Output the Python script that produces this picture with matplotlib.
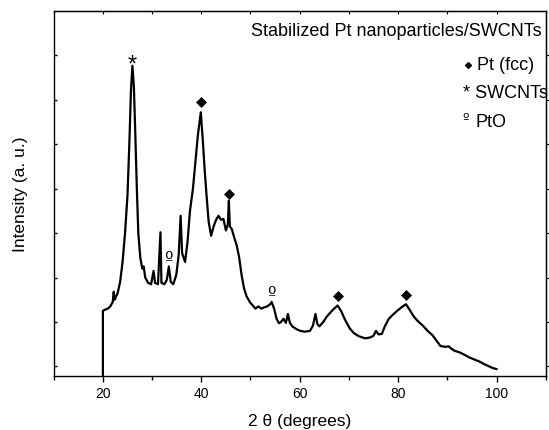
import matplotlib
matplotlib.use("Agg")
import matplotlib.pyplot as plt

# XRD pattern
two_theta = [20.0, 20.0, 20.5, 21.0, 21.5, 22.0, 22.2, 22.4, 23.0, 23.5, 24.0, 24.5,
             25.0, 25.4, 25.7, 26.0, 26.3, 26.6, 26.9, 27.2, 27.6, 28.0, 28.3, 28.6,
             29.2, 29.8, 30.3, 30.6, 31.2, 31.7, 31.9, 32.5, 33.0, 33.4, 33.8, 34.3,
             34.9, 35.4, 35.8, 36.1, 36.7, 37.2, 37.7, 38.3, 38.8, 39.3, 39.9, 40.3,
             40.7, 41.1, 41.5, 42.0, 42.5, 43.0, 43.5, 44.0, 44.5, 45.0, 45.4, 45.6,
             45.8, 46.2, 46.7, 47.2, 47.7, 48.2, 48.7, 49.2, 49.9, 50.4, 51.0, 51.6,
             52.2, 52.8, 53.4, 54.0, 54.3, 54.8, 55.3, 55.8, 56.2, 56.7, 57.2, 57.6,
             58.0, 58.5, 59.3, 60.1, 61.0, 62.1, 62.7, 63.2, 63.6, 64.0, 64.8, 65.5,
             66.3, 67.0, 67.7, 68.4, 69.3, 70.2, 71.0, 72.0, 73.3, 74.3, 75.0, 75.5,
             76.0, 76.7, 77.3, 78.1, 79.0, 79.8, 80.7, 81.6, 82.3, 83.2, 84.0, 85.0,
             86.0, 87.0, 87.8, 88.6, 89.5, 90.3, 90.8, 91.5, 92.4, 93.5, 94.5, 95.4,
             96.5, 97.5, 98.5, 99.3, 100.0]
intensity = [-0.5, 1.25, 1.28, 1.30, 1.35, 1.45, 1.68, 1.50, 1.65, 1.90, 2.35, 3.00,
             3.85, 5.10, 6.20, 6.77, 6.30, 5.20, 4.00, 3.00, 2.45, 2.20, 2.25, 2.00,
             1.88, 1.85, 2.15, 1.88, 1.85, 3.02, 1.88, 1.85, 1.95, 2.25, 1.90, 1.85,
             2.05, 2.50, 3.39, 2.55, 2.35, 2.80, 3.50, 4.00, 4.60, 5.20, 5.72, 5.10,
             4.40, 3.80, 3.25, 2.94, 3.15, 3.30, 3.39, 3.30, 3.32, 3.06, 3.20, 3.73,
             3.15, 3.09, 2.90, 2.72, 2.45, 2.05, 1.75, 1.58, 1.44, 1.38, 1.30, 1.35,
             1.30, 1.33, 1.35, 1.40, 1.45, 1.30, 1.07, 0.97, 1.00, 1.07, 0.98, 1.18,
             0.98, 0.90, 0.84, 0.80, 0.78, 0.80, 0.92, 1.18, 0.95, 0.90, 1.00, 1.12,
             1.22, 1.30, 1.37, 1.25, 1.03, 0.85, 0.75, 0.68, 0.63, 0.65, 0.69, 0.80,
             0.72, 0.73, 0.90, 1.07, 1.17, 1.25, 1.33, 1.40, 1.28, 1.12, 1.02, 0.92,
             0.80, 0.70, 0.58, 0.46, 0.44, 0.45, 0.40, 0.35, 0.32, 0.26, 0.20, 0.16,
             0.11, 0.05, 0.00, -0.04, -0.06]

# peak markers
pt_x = [39.9, 45.6, 67.7, 81.65]
pt_y = [5.95, 3.88, 1.59, 1.61]
swcnt_x = [26.0]
swcnt_y = [6.97]
pto_x = [33.4, 54.2]
pto_y = [2.49, 1.70]

xticks_major = [20, 40, 60, 80, 100]
xticks_minor = [10, 30, 50, 70, 90, 110]

plt.rcParams['font.family'] = ['Liberation Sans', 'DejaVu Sans']

fig = plt.figure(figsize=(5.49, 4.31), dpi=100)
ax = fig.add_axes([0.0978, 0.126, 0.8962, 0.846])

ax.plot(two_theta, intensity, color='black', linewidth=1.6)
ax.plot(pt_x, pt_y, linestyle='none', marker='D', markersize=5,
        color='black', markeredgewidth=0.5)
for x, y in zip(swcnt_x, swcnt_y):
    ax.annotate('*', xy=(x, y), xytext=(0, -10), textcoords='offset points',
                ha='center', va='baseline', fontsize=17)
for x, y in zip(pto_x, pto_y):
    ax.annotate('º', xy=(x, y), xytext=(0, -6), textcoords='offset points',
                ha='center', va='baseline', fontsize=13, family='DejaVu Sans')

ax.set_xlim(10, 110)
ax.set_ylim(-0.21, 8.0)
ax.set_xticks(xticks_major)
ax.set_xticks(xticks_minor, minor=True)
ax.set_yticks(range(0, 8))
ax.set_yticklabels([])
ax.tick_params(axis='x', which='major', direction='out', length=4.5, width=1,
               labelsize=10, pad=3)
ax.tick_params(axis='x', which='minor', direction='out', length=3, width=1)
ax.tick_params(axis='y', direction='in', length=2, width=1)
for s in ax.spines.values():
    s.set_linewidth(1.0)

top = ax.secondary_xaxis('top')
top.set_xticks(range(10, 111, 10))
top.set_xticklabels([])
top.tick_params(direction='in', length=2, width=0.8)
right = ax.secondary_yaxis('right')
right.set_yticks(range(0, 8))
right.set_yticklabels([])
right.tick_params(direction='out', length=2, width=0.8)

ax.set_xlabel('2 θ (degrees)', fontsize=12.5, labelpad=9)
ax.set_ylabel('Intensity (a. u.)', fontsize=12.5, labelpad=15)

ax.text(0.992, 0.946, 'Stabilized Pt nanoparticles/SWCNTs', transform=ax.transAxes,
        ha='right', va='center', fontsize=13)
ax.plot([0.8415], [0.853], transform=ax.transAxes, marker='D', markersize=3,
        color='black', clip_on=False)
ax.text(0.8598, 0.853, 'Pt (fcc)', transform=ax.transAxes,
        ha='left', va='center', fontsize=13)
ax.text(0.8313, 0.777, '* SWCNTs', transform=ax.transAxes,
        ha='left', va='center', fontsize=13, clip_on=False)
ax.text(0.8313, 0.7065, 'º', transform=ax.transAxes,
        ha='left', va='center', fontsize=10, family='DejaVu Sans')
ax.text(0.8583, 0.6965, 'PtO', transform=ax.transAxes,
        ha='left', va='center', fontsize=13)

fig.savefig('out.png', dpi=100)
